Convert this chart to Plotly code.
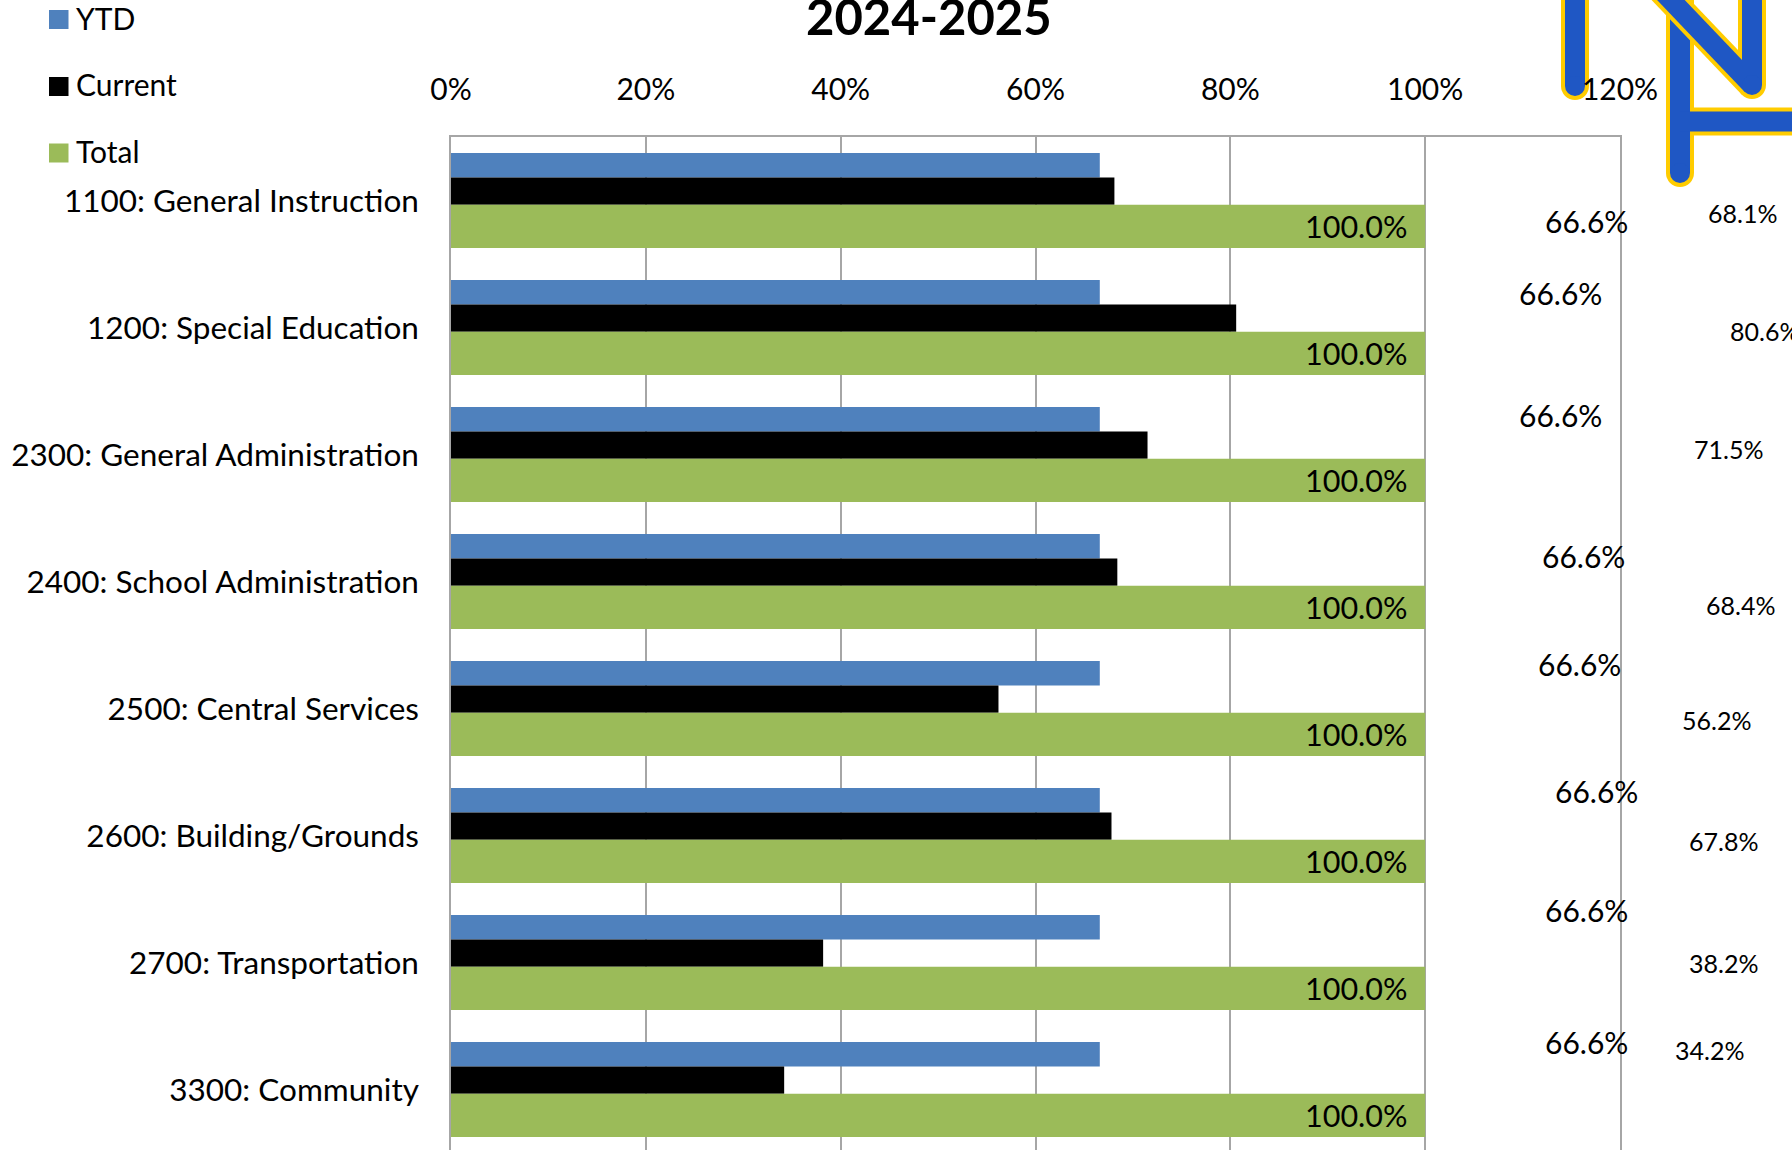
import plotly.graph_objects as go

# ---- data -------------------------------------------------------------
categories = [
    "1100: General Instruction",
    "1200: Special Education",
    "2300: General Administration",
    "2400: School Administration",
    "2500: Central Services",
    "2600: Building/Grounds",
    "2700: Transportation",
    "3300: Community",
]
ytd_pct = [66.6, 66.6, 66.6, 66.6, 66.6, 66.6, 66.6, 66.6]
current_pct = [68.1, 80.6, 71.5, 68.4, 56.2, 67.8, 38.2, 34.2]
total_pct = [100.0, 100.0, 100.0, 100.0, 100.0, 100.0, 100.0, 100.0]
x_tick_vals = [0, 20, 40, 60, 80, 100, 120]
series_names = ["YTD", "Current", "Total"]
title_text = "2024-2025"

# ---- layout constants ---------------------------------------------------
W, H = 1792, 1150
PLOT_L, PLOT_R, PLOT_T, PLOT_B = 451, 1620, 137, 1150
ROW_PX = 127.0
X_MAX = 120
FONT = "Lato"

BLUE, BLACK, GREEN = "#4F81BD", "#000000", "#9BBB59"
GRID = "#A6A6A6"

# bar placement within each category band (category units)
BAR_GEOM = {
    "YTD": dict(offset=-0.374, width=0.192),
    "Current": dict(offset=-0.182, width=0.215),
    "Total": dict(offset=0.033, width=0.341),
}

# hand-placed value labels: (x in axis %, y shift in category units)
YTD_LABEL_POS = [(116.6, 0.159), (113.9, -0.274), (113.9, -0.313), (116.3, -0.203),
                 (115.8, -0.353), (117.6, -0.353), (116.6, -0.416), (116.6, -0.376)]
CUR_LABEL_POS = [(132.6, 0.096), (134.8, 0.025), (131.1, -0.046), (132.4, 0.183),
                 (129.9, 0.088), (130.6, 0.041), (130.6, 0.002), (129.2, -0.313)]


def px_x(px):
    return (px - PLOT_L) / (PLOT_R - PLOT_L)


def px_y(py):
    return (PLOT_B - py) / (PLOT_B - PLOT_T)


fig = go.Figure()
for name, vals, col in zip(series_names, [ytd_pct, current_pct, total_pct], [BLUE, BLACK, GREEN]):
    fig.add_trace(go.Bar(
        name=name, y=categories, x=vals, orientation="h",
        marker=dict(color=col, line=dict(width=0)),
        showlegend=False, hoverinfo="skip",
        **BAR_GEOM[name],
    ))

annotations = []

# total labels, inside the bar end
g = BAR_GEOM["Total"]
for i, v in enumerate(total_pct):
    annotations.append(dict(
        x=v, y=i + g["offset"] + g["width"] / 2, xref="x", yref="y",
        text=f"{v:.1f}%", showarrow=False, xanchor="right", yanchor="middle",
        xshift=-16, font=dict(family=FONT, size=30.5, color="black"),
    ))

# YTD and current labels, dragged out to the right
for i, v in enumerate(ytd_pct):
    xp, dy = YTD_LABEL_POS[i]
    annotations.append(dict(
        x=xp / X_MAX, y=i + dy, xref="paper", yref="y",
        text=f"{v:.1f}%", showarrow=False, xanchor="center", yanchor="middle",
        font=dict(family=FONT, size=30, color="black"),
    ))
for i, v in enumerate(current_pct):
    xp, dy = CUR_LABEL_POS[i]
    annotations.append(dict(
        x=xp / X_MAX, y=i + dy, xref="paper", yref="y",
        text=f"{v:.1f}%", showarrow=False, xanchor="center", yanchor="middle",
        font=dict(family=FONT, size=25, color="black"),
    ))

# title
annotations.append(dict(
    x=px_x(929), y=px_y(16), xref="paper", yref="paper",
    text=f"<b>{title_text}</b>", showarrow=False, xanchor="center", yanchor="middle",
    font=dict(family=FONT, size=49, color="black"),
))

shapes = []

# legend, top-left
legend_rows = [(BLUE, 19.5), (BLACK, 86.5), (GREEN, 153.0)]
for name, (col, cy) in zip(series_names, legend_rows):
    shapes.append(dict(
        type="rect", xref="paper", yref="paper",
        x0=px_x(49), x1=px_x(68.5), y0=px_y(cy - 9.5), y1=px_y(cy + 9.5),
        fillcolor=col, line=dict(width=0),
    ))
    annotations.append(dict(
        x=px_x(74), y=px_y(cy - 2), xref="paper", yref="paper",
        text=name, showarrow=False, xanchor="left", yanchor="middle",
        font=dict(family=FONT, size=30, color="black"),
    ))

# monogram in the top-right corner (strokes in pixel space)
LOGO_BLUE, LOGO_GOLD = "#1F57C4", "#FFCC00"
OUTER_W, INNER_W = 28, 20
letters = [
    # F
    dict(lines=[((1680, -80), (1680, 173)), ((1680, 121.5), (1900, 121.5))],
         caps=[(1680, 173)]),
    # N
    dict(lines=[((1575, -100), (1575, 86)), ((1575, -100.5), (1752, 85)),
                ((1752, -200), (1752, 85))],
         caps=[(1575, 86), (1752, 85)]),
]


def circle(cx, cy, d, col):
    r = d / 2
    return dict(type="circle", xref="paper", yref="paper", layer="below",
                x0=px_x(cx - r), x1=px_x(cx + r), y0=px_y(cy + r), y1=px_y(cy - r),
                fillcolor=col, line=dict(width=0))


for letter in letters:
    for col, w in [(LOGO_GOLD, OUTER_W), (LOGO_BLUE, INNER_W)]:
        for (x0, y0), (x1, y1) in letter["lines"]:
            shapes.append(dict(type="line", xref="paper", yref="paper", layer="below",
                               x0=px_x(x0), y0=px_y(y0), x1=px_x(x1), y1=px_y(y1),
                               line=dict(color=col, width=w)))
        for cx, cy in letter["caps"]:
            shapes.append(circle(cx, cy, w, col))

fig.update_layout(
    width=W, height=H,
    margin=dict(l=PLOT_L, r=W - PLOT_R, t=PLOT_T, b=H - PLOT_B, pad=0),
    paper_bgcolor="white", plot_bgcolor="rgba(0,0,0,0)",
    barmode="overlay", showlegend=False,
    font=dict(family=FONT, color="black"),
    xaxis=dict(
        side="top", range=[0, X_MAX], tickvals=x_tick_vals,
        ticktext=[f"{v}%" for v in x_tick_vals],
        showgrid=True, gridcolor=GRID, gridwidth=1.5,
        showline=True, linecolor=GRID, linewidth=1.5, mirror=False,
        ticks="", ticklabelstandoff=23, zeroline=False,
        tickfont=dict(family=FONT, size=30, color="black"),
        fixedrange=True,
    ),
    yaxis=dict(
        type="category", categoryorder="array", categoryarray=categories,
        range=[-0.5 + (PLOT_B - PLOT_T) / ROW_PX, -0.5],
        showgrid=False, showline=True, linecolor=GRID, linewidth=1.5, mirror=True,
        ticks="", ticklabelstandoff=24,
        tickfont=dict(family=FONT, size=31.5, color="black"),
        fixedrange=True,
    ),
    annotations=annotations, shapes=shapes,
)

fig.write_html("out.html", config=dict(displayModeBar=False))
